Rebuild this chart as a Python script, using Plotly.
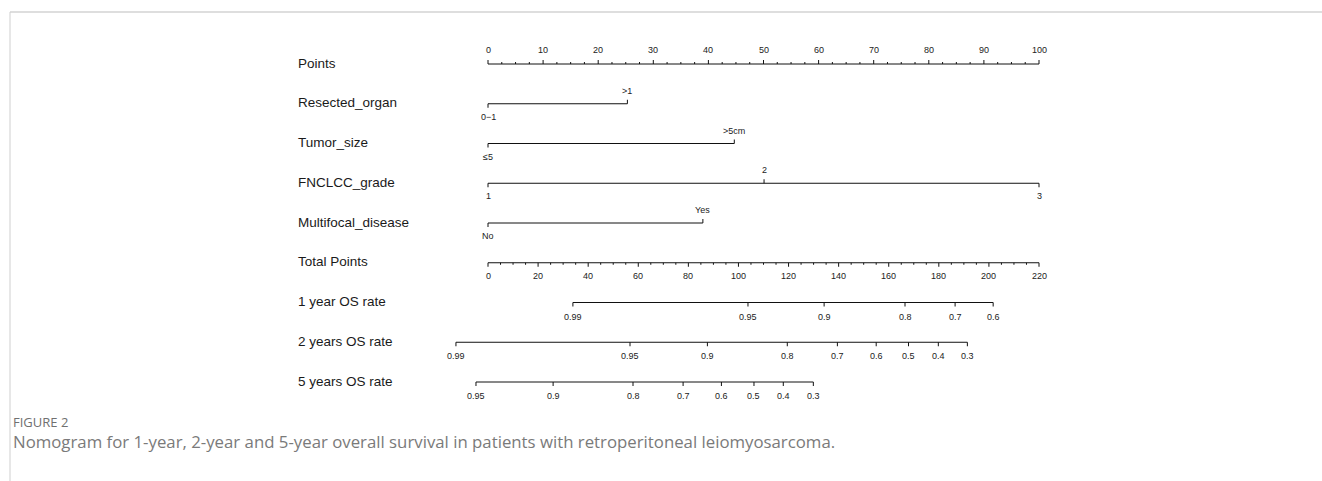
import plotly.graph_objects as go

# ---------------- data ----------------
row_names = ["Points", "Resected_organ", "Tumor_size", "FNCLCC_grade",
             "Multifocal_disease", "Total Points", "1 year OS rate",
             "2 years OS rate", "5 years OS rate"]

points_major = list(range(0, 101, 10))
points_minor = [i * 2.5 for i in range(41)]

resected_levels = ["0\u22121", ">1"]
resected_points = [0, 25.3]
tumor_levels = ["\u22645", ">5cm"]
tumor_points = [0, 44.7]
grade_levels = ["1", "2", "3"]
grade_points = [0, 50.1, 100]
multifocal_levels = ["No", "Yes"]
multifocal_points = [0, 39.0]

total_major = list(range(0, 221, 20))
total_minor = list(range(0, 221, 5))

os1_labels = ["0.99", "0.95", "0.9", "0.8", "0.7", "0.6"]
os1_total = [33.9, 103.8, 134.2, 166.5, 186.5, 201.7]
os2_labels = ["0.99", "0.95", "0.9", "0.8", "0.7", "0.6", "0.5", "0.4", "0.3"]
os2_total = [-12.8, 56.7, 87.6, 119.5, 139.5, 155.0, 167.9, 179.8, 191.4]
os5_labels = ["0.95", "0.9", "0.8", "0.7", "0.6", "0.5", "0.4", "0.3"]
os5_total = [-4.8, 26.0, 57.9, 77.9, 93.2, 106.2, 117.9, 129.9]

caption_head = "FIGURE 2"
caption_text = ("Nomogram for 1-year, 2-year and 5-year overall survival in patients "
                "with retroperitoneal leiomyosarcoma.")

# ---------------- layout geometry ----------------
W, H = 1322, 481
X0_PX, X1_PX = 488, 1039          # pixel span of the 0..100 points scale
ROW0_PX, ROW_STEP = 64, 39.75     # first row line and row spacing (px)
PX = 1.0 / ROW_STEP               # one pixel in row units
MAJ, MIN = 4 * PX, 2 * PX

pts_scale = (X1_PX - X0_PX) / 100.0
tot_scale = (X1_PX - X0_PX) / 220.0
x_range = [-X0_PX / pts_scale, (W - X0_PX) / pts_scale]
x2_range = [-X0_PX / tot_scale, (W - X0_PX) / tot_scale]
y_range = [(H - ROW0_PX) / ROW_STEP, -ROW0_PX / ROW_STEP]

LINE = dict(color="#111111", width=1)
TICK_FONT = dict(family="Liberation Sans, Arial", size=9, color="#222222")
ROW_FONT = dict(family="Liberation Sans, Arial", size=13.5, color="#1a1a1a")

fig = go.Figure()
annotations = []


def add_axis_row(row, line_vals, ticks, xaxis):
    """ticks: list of (value, direction(+1 down / -1 up), length)"""
    xs = [min(line_vals), max(line_vals), None]
    ys = [row, row, None]
    for v, d, ln in ticks:
        xs += [v, v, None]
        ys += [row, row + d * ln, None]
    fig.add_trace(go.Scatter(x=xs, y=ys, mode="lines", line=LINE,
                             xaxis=xaxis, yaxis="y", hoverinfo="skip",
                             showlegend=False))


def add_label(x, row, text, above, xaxis, shift=13):
    annotations.append(dict(x=x, y=row, xref=xaxis, yref="y", text=text,
                            showarrow=False, xanchor="center", yanchor="middle",
                            yshift=shift if above else -shift, font=TICK_FONT))


# Row 0: Points
ticks = [(v, -1, MAJ if v in points_major else MIN) for v in points_minor]
add_axis_row(0, points_minor, ticks, "x")
for v in points_major:
    add_label(v, 0, str(v), True, "x", 14)

# Variable rows
variables = [(resected_levels, resected_points),
             (tumor_levels, tumor_points),
             (grade_levels, grade_points),
             (multifocal_levels, multifocal_points)]
for i, (levels, pts) in enumerate(variables):
    row = i + 1
    ticks = [(p, (-1 if j % 2 else 1), MAJ) for j, p in enumerate(pts)]
    add_axis_row(row, pts, ticks, "x")
    for j, (lv, p) in enumerate(zip(levels, pts)):
        add_label(p, row, lv, j % 2 == 1, "x", 13)

# Row 5: Total Points
ticks = [(v, 1, MAJ if v in total_major else MIN) for v in total_minor]
add_axis_row(5, total_minor, ticks, "x2")
for v in total_major:
    add_label(v, 5, str(v), False, "x2", 13)

# OS rows
for row, labels, vals in [(6, os1_labels, os1_total),
                          (7, os2_labels, os2_total),
                          (8, os5_labels, os5_total)]:
    add_axis_row(row, vals, [(v, 1, MAJ) for v in vals], "x2")
    for lb, v in zip(labels, vals):
        add_label(v, row, lb, False, "x2", 14)

# Row names
for r, name in enumerate(row_names):
    annotations.append(dict(x=296 / W, y=r, xref="paper", yref="y", text=name,
                            showarrow=False, xanchor="left", yanchor="middle",
                            yshift=1, font=ROW_FONT))

# Caption
annotations.append(dict(x=11 / W, y=1 - 422 / H, xref="paper", yref="paper",
                        text=caption_head, showarrow=False, xanchor="left",
                        yanchor="middle",
                        font=dict(family="Open Sans", size=13, color="#707070")))
annotations.append(dict(x=11 / W, y=1 - 441 / H, xref="paper", yref="paper",
                        text=caption_text, showarrow=False, xanchor="left",
                        yanchor="middle",
                        font=dict(family="Open Sans", size=16.8, color="#7a7a7a")))

shapes = [
    dict(type="line", xref="paper", yref="paper", x0=10 / W, x1=1,
         y0=1 - 12 / H, y1=1 - 12 / H, line=dict(color="#dedede", width=2)),
    dict(type="line", xref="paper", yref="paper", x0=10 / W, x1=10 / W,
         y0=1 - 12 / H, y1=0, line=dict(color="#cfcfcf", width=1)),
]

axis_common = dict(visible=False, showgrid=False, zeroline=False, fixedrange=True)
fig.update_layout(
    width=W, height=H, margin=dict(l=0, r=0, t=0, b=0),
    paper_bgcolor="white", plot_bgcolor="white",
    xaxis=dict(range=x_range, domain=[0, 1], **axis_common),
    xaxis2=dict(range=x2_range, domain=[0, 1], overlaying="x", **axis_common),
    yaxis=dict(range=y_range, domain=[0, 1], **axis_common),
    annotations=annotations, shapes=shapes, showlegend=False,
)

fig.write_html(
    "out.html",
    config={"displayModeBar": False},
    post_script="document.body.style.margin='0';document.body.style.overflow='hidden';",
)
